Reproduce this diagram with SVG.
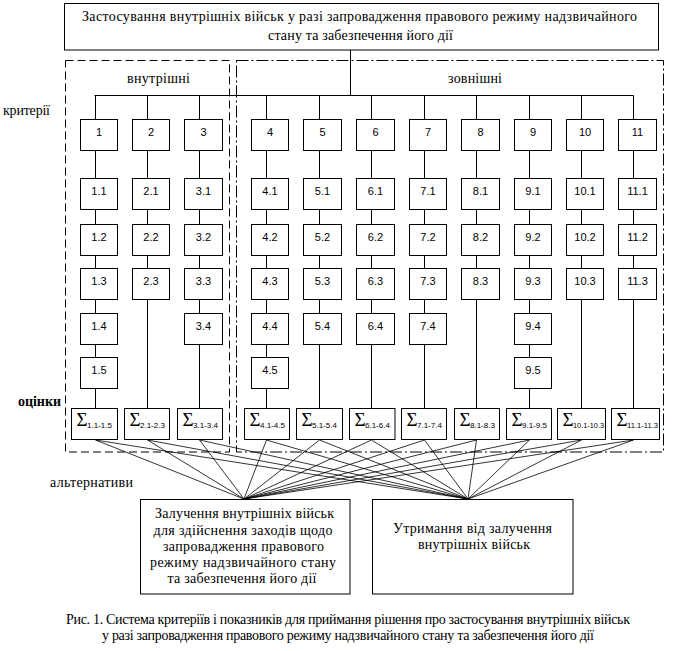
<svg xmlns="http://www.w3.org/2000/svg" width="686" height="651" viewBox="0 0 686 651">
<style>
.b{fill:#fff;stroke:#000;stroke-width:1}
.l{stroke:#000;stroke-width:1;fill:none}
.t{font-family:"Liberation Serif","Times New Roman",serif;font-size:14px;fill:#000}
.n{font-family:"Liberation Sans",Arial,sans-serif;font-size:11px;fill:#000;text-anchor:middle}
.s{font-family:"Liberation Serif","Times New Roman",serif;font-size:19px;fill:#000}
.ss{font-family:"Liberation Sans",Arial,sans-serif;font-size:8px;fill:#000}
.c{text-anchor:middle}
</style>
<rect width="686" height="651" fill="#fff"/>
<g id="group-internal">
<rect x="65.5" y="60.5" width="164" height="391.5" fill="none" stroke="#000" stroke-dasharray="8 4"/>
<text class="t c" x="158.5" y="83" textLength="63">внутрішні</text>
</g>
<g id="group-external">
<rect x="236.5" y="60.5" width="427" height="391.5" fill="none" stroke="#000" stroke-dasharray="12 3 2 3"/>
<text class="t c" x="475" y="83" textLength="54">зовнішні</text>
</g>
<g id="connectors" class="l">
<path d="M350.5 50V95.5M94.5 95.5H633.5"/>
<path d="M95.5 95.5V408.5M147.5 95.5V408.5M199.5 95.5V408.5M266.5 95.5V408.5M319.5 95.5V408.5M371.5 95.5V408.5M424.5 95.5V408.5M476.5 95.5V408.5M529.5 95.5V408.5M581.5 95.5V408.5M633.5 95.5V408.5"/>
<path stroke-width="0.8" d="M95.5 440L244 499M95.5 440L468 499M147.5 440L244 499M147.5 440L468 499M199.5 440L244 499M199.5 440L468 499M266.5 440L244 499M266.5 440L468 499M319.5 440L244 499M319.5 440L468 499M371.5 440L244 499M371.5 440L468 499M424.5 440L244 499M424.5 440L468 499M476.5 440L244 499M476.5 440L468 499M529.5 440L244 499M529.5 440L468 499M581.5 440L244 499M581.5 440L468 499M633.5 440L244 499M633.5 440L468 499"/>
</g>
<g id="title">
<rect class="b" x="64.5" y="3.5" width="594" height="46.5"/>
<text class="t c" x="359.5" y="21" textLength="555">Застосування внутрішніх військ у разі запровадження правового режиму надзвичайного</text>
<text class="t c" x="360.5" y="40" textLength="185">стану та забезпечення його дії</text>
</g>
<g id="labels">
<text class="t" x="3" y="115" textLength="47">критерії</text>
<text class="t" x="18" y="406" font-weight="bold" textLength="43">оцінки</text>
<text class="t" x="50" y="487" textLength="83">альтернативи</text>
</g>
<g id="c1">
<rect class="b" x="80.5" y="119.5" width="37" height="31"/><text class="n" x="99" y="136">1</text>
<rect class="b" x="80.5" y="178.5" width="37" height="31"/><text class="n" x="99" y="195">1.1</text>
<rect class="b" x="80.5" y="224.5" width="37" height="31"/><text class="n" x="99" y="241">1.2</text>
<rect class="b" x="80.5" y="268.5" width="37" height="31"/><text class="n" x="99" y="285">1.3</text>
<rect class="b" x="80.5" y="313.5" width="37" height="31"/><text class="n" x="99" y="330">1.4</text>
<rect class="b" x="80.5" y="357.5" width="37" height="31"/><text class="n" x="99" y="374">1.5</text>
</g>
<g id="c2">
<rect class="b" x="132.5" y="119.5" width="37" height="31"/><text class="n" x="151" y="136">2</text>
<rect class="b" x="132.5" y="178.5" width="37" height="31"/><text class="n" x="151" y="195">2.1</text>
<rect class="b" x="132.5" y="224.5" width="37" height="31"/><text class="n" x="151" y="241">2.2</text>
<rect class="b" x="132.5" y="268.5" width="37" height="31"/><text class="n" x="151" y="285">2.3</text>
</g>
<g id="c3">
<rect class="b" x="184.5" y="119.5" width="38" height="31"/><text class="n" x="203.5" y="136">3</text>
<rect class="b" x="184.5" y="178.5" width="38" height="31"/><text class="n" x="203.5" y="195">3.1</text>
<rect class="b" x="184.5" y="224.5" width="38" height="31"/><text class="n" x="203.5" y="241">3.2</text>
<rect class="b" x="184.5" y="268.5" width="38" height="31"/><text class="n" x="203.5" y="285">3.3</text>
<rect class="b" x="184.5" y="313.5" width="38" height="31"/><text class="n" x="203.5" y="330">3.4</text>
</g>
<g id="c4">
<rect class="b" x="251.5" y="119.5" width="37" height="31"/><text class="n" x="270" y="136">4</text>
<rect class="b" x="251.5" y="178.5" width="37" height="31"/><text class="n" x="270" y="195">4.1</text>
<rect class="b" x="251.5" y="224.5" width="37" height="31"/><text class="n" x="270" y="241">4.2</text>
<rect class="b" x="251.5" y="268.5" width="37" height="31"/><text class="n" x="270" y="285">4.3</text>
<rect class="b" x="251.5" y="313.5" width="37" height="31"/><text class="n" x="270" y="330">4.4</text>
<rect class="b" x="251.5" y="357.5" width="37" height="31"/><text class="n" x="270" y="374">4.5</text>
</g>
<g id="c5">
<rect class="b" x="303.5" y="119.5" width="38" height="31"/><text class="n" x="322.5" y="136">5</text>
<rect class="b" x="303.5" y="178.5" width="38" height="31"/><text class="n" x="322.5" y="195">5.1</text>
<rect class="b" x="303.5" y="224.5" width="38" height="31"/><text class="n" x="322.5" y="241">5.2</text>
<rect class="b" x="303.5" y="268.5" width="38" height="31"/><text class="n" x="322.5" y="285">5.3</text>
<rect class="b" x="303.5" y="313.5" width="38" height="31"/><text class="n" x="322.5" y="330">5.4</text>
</g>
<g id="c6">
<rect class="b" x="356.5" y="119.5" width="38" height="31"/><text class="n" x="375.5" y="136">6</text>
<rect class="b" x="356.5" y="178.5" width="38" height="31"/><text class="n" x="375.5" y="195">6.1</text>
<rect class="b" x="356.5" y="224.5" width="38" height="31"/><text class="n" x="375.5" y="241">6.2</text>
<rect class="b" x="356.5" y="268.5" width="38" height="31"/><text class="n" x="375.5" y="285">6.3</text>
<rect class="b" x="356.5" y="313.5" width="38" height="31"/><text class="n" x="375.5" y="330">6.4</text>
</g>
<g id="c7">
<rect class="b" x="409.5" y="119.5" width="37" height="31"/><text class="n" x="428" y="136">7</text>
<rect class="b" x="409.5" y="178.5" width="37" height="31"/><text class="n" x="428" y="195">7.1</text>
<rect class="b" x="409.5" y="224.5" width="37" height="31"/><text class="n" x="428" y="241">7.2</text>
<rect class="b" x="409.5" y="268.5" width="37" height="31"/><text class="n" x="428" y="285">7.3</text>
<rect class="b" x="409.5" y="313.5" width="37" height="31"/><text class="n" x="428" y="330">7.4</text>
</g>
<g id="c8">
<rect class="b" x="461.5" y="119.5" width="38" height="31"/><text class="n" x="480.5" y="136">8</text>
<rect class="b" x="461.5" y="178.5" width="38" height="31"/><text class="n" x="480.5" y="195">8.1</text>
<rect class="b" x="461.5" y="224.5" width="38" height="31"/><text class="n" x="480.5" y="241">8.2</text>
<rect class="b" x="461.5" y="268.5" width="38" height="31"/><text class="n" x="480.5" y="285">8.3</text>
</g>
<g id="c9">
<rect class="b" x="514.5" y="119.5" width="37" height="31"/><text class="n" x="533" y="136">9</text>
<rect class="b" x="514.5" y="178.5" width="37" height="31"/><text class="n" x="533" y="195">9.1</text>
<rect class="b" x="514.5" y="224.5" width="37" height="31"/><text class="n" x="533" y="241">9.2</text>
<rect class="b" x="514.5" y="268.5" width="37" height="31"/><text class="n" x="533" y="285">9.3</text>
<rect class="b" x="514.5" y="313.5" width="37" height="31"/><text class="n" x="533" y="330">9.4</text>
<rect class="b" x="514.5" y="357.5" width="37" height="31"/><text class="n" x="533" y="374">9.5</text>
</g>
<g id="c10">
<rect class="b" x="566.5" y="119.5" width="37" height="31"/><text class="n" x="585" y="136">10</text>
<rect class="b" x="566.5" y="178.5" width="37" height="31"/><text class="n" x="585" y="195">10.1</text>
<rect class="b" x="566.5" y="224.5" width="37" height="31"/><text class="n" x="585" y="241">10.2</text>
<rect class="b" x="566.5" y="268.5" width="37" height="31"/><text class="n" x="585" y="285">10.3</text>
</g>
<g id="c11">
<rect class="b" x="618.5" y="119.5" width="38" height="31"/><text class="n" x="637.5" y="136">11</text>
<rect class="b" x="618.5" y="178.5" width="38" height="31"/><text class="n" x="637.5" y="195">11.1</text>
<rect class="b" x="618.5" y="224.5" width="38" height="31"/><text class="n" x="637.5" y="241">11.2</text>
<rect class="b" x="618.5" y="268.5" width="38" height="31"/><text class="n" x="637.5" y="285">11.3</text>
</g>
<g id="sums">
<g id="s1"><rect class="b" x="71.5" y="408.5" width="46" height="31"/><text class="s" x="76.5" y="426">Σ</text><text class="ss" x="87" y="428">1.1-1.5</text></g>
<g id="s2"><rect class="b" x="124.5" y="408.5" width="45" height="31"/><text class="s" x="129.5" y="426">Σ</text><text class="ss" x="140" y="428">2.1-2.3</text></g>
<g id="s3"><rect class="b" x="177.5" y="408.5" width="45" height="31"/><text class="s" x="182.5" y="426">Σ</text><text class="ss" x="193" y="428">3.1-3.4</text></g>
<g id="s4"><rect class="b" x="244.5" y="408.5" width="45" height="31"/><text class="s" x="249.5" y="426">Σ</text><text class="ss" x="260" y="428">4.1-4.5</text></g>
<g id="s5"><rect class="b" x="296.5" y="408.5" width="46" height="31"/><text class="s" x="301.5" y="426">Σ</text><text class="ss" x="312" y="428">5.1-5.4</text></g>
<g id="s6"><rect class="b" x="349.5" y="408.5" width="45.5" height="31"/><text class="s" x="354.5" y="426">Σ</text><text class="ss" x="365" y="428">6.1-6.4</text></g>
<g id="s7"><rect class="b" x="401.5" y="408.5" width="45" height="31"/><text class="s" x="406.5" y="426">Σ</text><text class="ss" x="417" y="428">7.1-7.4</text></g>
<g id="s8"><rect class="b" x="454.5" y="408.5" width="45" height="31"/><text class="s" x="459.5" y="426">Σ</text><text class="ss" x="470" y="428">8.1-8.3</text></g>
<g id="s9"><rect class="b" x="506.5" y="408.5" width="45" height="31"/><text class="s" x="511.5" y="426">Σ</text><text class="ss" x="522" y="428">9.1-9.5</text></g>
<g id="s10"><rect class="b" x="557.5" y="408.5" width="48" height="31"/><text class="s" x="562.5" y="426">Σ</text><text class="ss" x="573" y="428" textLength="31" lengthAdjust="spacingAndGlyphs">10.1-10.3</text></g>
<g id="s11"><rect class="b" x="611.5" y="408.5" width="48" height="31"/><text class="s" x="616.5" y="426">Σ</text><text class="ss" x="627" y="428" textLength="31" lengthAdjust="spacingAndGlyphs">11.1-11.3</text></g>
</g>
<g id="alt1">
<rect class="b" x="140.5" y="499.5" width="209.5" height="94.5"/>
<text class="t c" x="244.5" y="518" textLength="179">Залучення внутрішніх військ</text>
<text class="t c" x="243" y="534.5" textLength="179">для здійснення заходів щодо</text>
<text class="t c" x="243.5" y="550.5" textLength="161">запровадження правового</text>
<text class="t c" x="243" y="566.5" textLength="186">режиму надзвичайного стану</text>
<text class="t c" x="242" y="582.5" textLength="149">та забезпечення його дії</text>
</g>
<g id="alt2">
<rect class="b" x="372.5" y="499.5" width="200.5" height="94.5"/>
<text class="t c" x="472.5" y="533" textLength="159">Утримання від залучення</text>
<text class="t c" x="474" y="549" textLength="112">внутрішніх військ</text>
</g>
<g id="caption">
<text class="t c" x="348" y="624" font-size="12.5" textLength="564">Рис. 1. Система критеріїв і показників для приймання рішення про застосування внутрішніх військ</text>
<text class="t c" x="348" y="640" font-size="12.5" textLength="492">у разі запровадження правового режиму надзвичайного стану та забезпечення його дії</text>
</g>
</svg>
